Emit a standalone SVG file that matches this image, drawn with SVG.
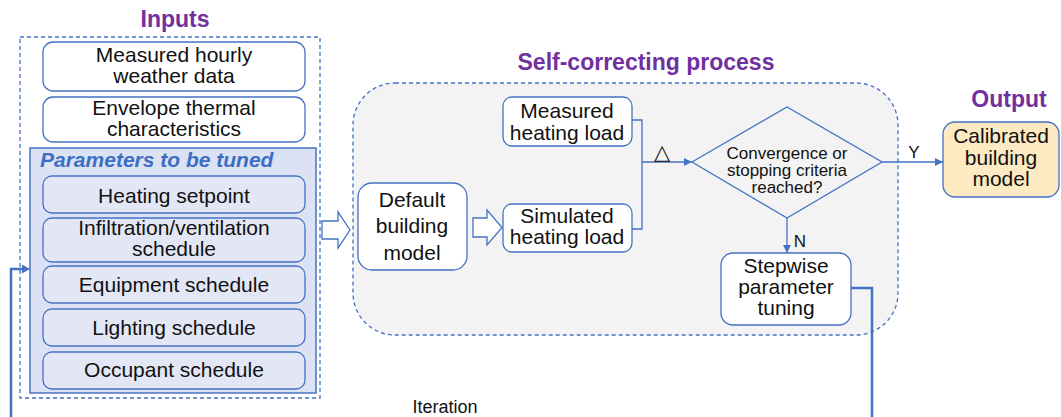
<svg xmlns="http://www.w3.org/2000/svg" width="1061" height="417" viewBox="0 0 1061 417">
<style>
text{font-family:"Liberation Sans",Arial,sans-serif;fill:#111;text-anchor:middle}
.t{font-size:21px}
.d{font-size:17px}
.title{font-size:23px;font-weight:bold;fill:#7030a0}
.box{fill:#fff;stroke:#4472c4;stroke-width:1.3}
.pbox{fill:#e3e7f5;stroke:#4472c4;stroke-width:1.3}
.dash{stroke:#4472c4;stroke-width:1.3;stroke-dasharray:4 3}
.line{fill:none;stroke:#4472c4;stroke-width:1.3}
.thick{fill:none;stroke:#4472c4;stroke-width:2.5}
.fat{fill:#fff;stroke:#4472c4;stroke-width:1.3}
</style>
<defs>
<marker id="ah" viewBox="0 0 10 10" refX="10" refY="5" markerWidth="8" markerHeight="8" markerUnits="userSpaceOnUse" orient="auto">
<path d="M0,0 L10,5 L0,10 z" fill="#4472c4"/>
</marker>
</defs>

<g id="inputs">
<text class="title" x="175" y="27">Inputs</text>
<rect x="20" y="37" width="300" height="361" fill="none" class="dash"/>
</g>
<g id="weather">
<rect class="box" x="43" y="42" width="262" height="49" rx="10"/>
<text class="t" x="174" y="62">Measured hourly</text>
<text class="t" x="174" y="83">weather data</text>
</g>
<g id="envelope">
<rect class="box" x="43" y="97" width="262" height="45" rx="10"/>
<text class="t" x="174" y="115">Envelope thermal</text>
<text class="t" x="174" y="136">characteristics</text>
</g>
<g id="params">
<rect x="30" y="148" width="286" height="245" fill="#dbe2f3" stroke="#4472c4" stroke-width="1.5"/>
<text x="40" y="167" style="font-size:21px;font-weight:bold;font-style:italic;fill:#3b6ec4;text-anchor:start">Parameters to be tuned</text>
</g>
<g id="heating">
<rect class="pbox" x="43" y="176" width="262" height="37" rx="9"/>
<text class="t" x="174" y="203">Heating setpoint</text>
</g>
<g id="infiltration">
<rect class="pbox" x="43" y="218" width="262" height="44" rx="9"/>
<text class="t" x="174" y="235">Infiltration/ventilation</text>
<text class="t" x="174" y="256">schedule</text>
</g>
<g id="equipment">
<rect class="pbox" x="43" y="266" width="262" height="37" rx="9"/>
<text class="t" x="174" y="292">Equipment schedule</text>
</g>
<g id="lighting">
<rect class="pbox" x="43" y="309" width="262" height="37" rx="9"/>
<text class="t" x="174" y="335">Lighting schedule</text>
</g>
<g id="occupant">
<rect class="pbox" x="43" y="352" width="262" height="37" rx="9"/>
<text class="t" x="174" y="377">Occupant schedule</text>
</g>

<g id="selfcorrecting">
<text class="title" x="646" y="70">Self-correcting process</text>
<rect x="353" y="83" width="545" height="252" rx="42" fill="#f3f3f3" class="dash"/>
</g>
<g id="default">
<rect class="box" x="358" y="183" width="109" height="87" rx="14"/>
<text class="t" x="412" y="207">Default</text>
<text class="t" x="412" y="233">building</text>
<text class="t" x="412" y="260">model</text>
</g>
<g id="measured">
<rect class="box" x="503" y="97" width="129" height="49" rx="9"/>
<text class="t" x="567" y="118">Measured</text>
<text class="t" x="567" y="140">heating load</text>
</g>
<g id="simulated">
<rect class="box" x="503" y="204" width="129" height="48" rx="9"/>
<text class="t" x="567" y="223">Simulated</text>
<text class="t" x="567" y="244">heating load</text>
</g>
<g id="decision">
<polygon points="692,162 787,107 882,162 787,218" fill="#f3f3f3" stroke="#4472c4" stroke-width="1.3"/>
<text class="d" x="787" y="159">Convergence or</text>
<text class="d" x="787" y="176">stopping criteria</text>
<text class="d" x="787" y="193">reached?</text>
</g>
<g id="stepwise">
<rect class="box" x="721" y="253" width="130" height="72" rx="12"/>
<text class="t" x="786" y="273">Stepwise</text>
<text class="t" x="786" y="294">parameter</text>
<text class="t" x="786" y="315">tuning</text>
</g>
<g id="output">
<text class="title" x="1009" y="107">Output</text>
<rect x="943" y="122" width="116" height="75" rx="12" fill="#fde9c2" stroke="#4472c4" stroke-width="1.3"/>
<text class="t" x="1001" y="143">Calibrated</text>
<text class="t" x="1001" y="165">building</text>
<text class="t" x="1001" y="186">model</text>
</g>

<g id="connectors">
<path class="fat" d="M322,221 H338 V212 L350,230 L338,248 V239 H322 Z"/>
<path class="fat" d="M473,218 H487 V210 L502,227.5 L487,245 V237 H473 Z"/>
<path class="line" d="M632,120 H642 V229 H632"/>
<path class="line" d="M642,162 H692" marker-end="url(#ah)"/>
<text x="662" y="159" style="font-size:21px;font-family:'DejaVu Sans',sans-serif;font-weight:normal">△</text>
<path class="line" d="M882,162 H943" marker-end="url(#ah)"/>
<text style="font-size:17px" x="914" y="158">Y</text>
<path class="line" d="M787,218 V253" marker-end="url(#ah)"/>
<text style="font-size:17px" x="800" y="247">N</text>
<path class="thick" d="M851,288 H872 V417"/>
<path class="thick" d="M11,417 V269 H24"/>
<path d="M22,264.5 L30,269 L22,273.5 z" fill="#4472c4"/>
<text x="445" y="413" style="font-size:18px">Iteration</text>
</g>
</svg>
